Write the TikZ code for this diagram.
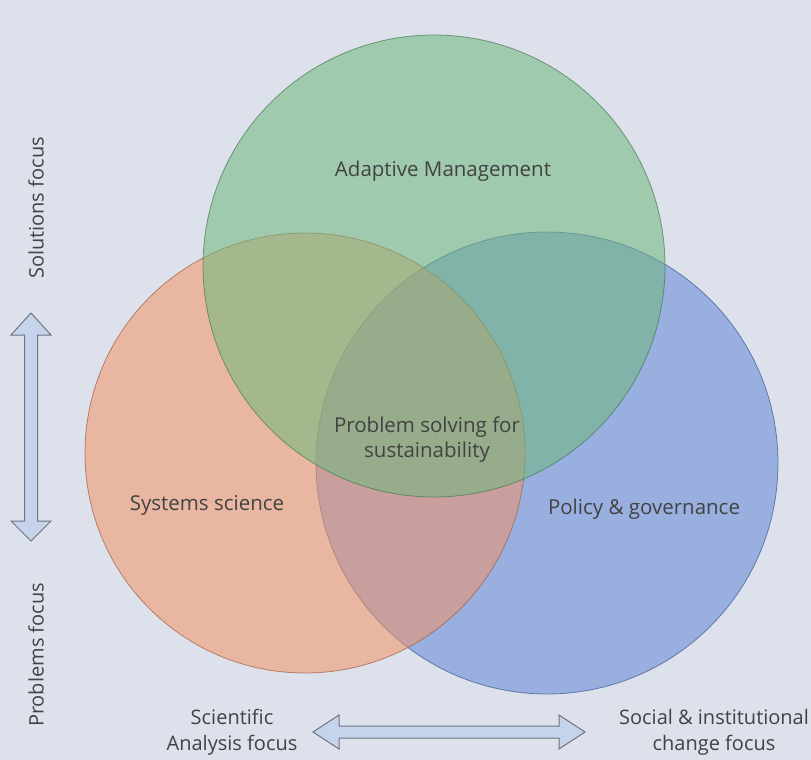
\documentclass[tikz,border=0pt]{standalone}
\usepackage{fontspec}
\setmainfont{Open Sans}
\definecolor{pagebg}{RGB}{221,225,235}
\definecolor{adaptfill}{RGB}{111,184,125}
\definecolor{systemsfill}{RGB}{242,147,102}
\definecolor{policyfill}{RGB}{96,135,216}
\definecolor{labeltext}{RGB}{66,66,66}
\definecolor{arrowfill}{RGB}{198,211,236}
\definecolor{arrowline}{RGB}{112,116,126}
\tikzset{
  venn/.style={circle, inner sep=0pt, fill opacity=0.55, draw opacity=0.7, line width=0.8pt},
  lbl/.style={text=labeltext, font=\fontsize{20.5}{25}\selectfont, align=center},
  axislbl/.style={text=labeltext, font=\fontsize{20}{26}\selectfont, align=center},
  focusarrow/.style={draw=arrowline, fill=arrowfill, line width=1pt, line join=miter}
}
\begin{document}
\begin{tikzpicture}[x=1pt,y=-1pt]
  % page background
  \fill[pagebg] (0,0) rectangle (811,760);
  \useasboundingbox (0,0) rectangle (811,760);

  % the three overlapping fields
  \node[venn, fill=policyfill, draw=policyfill!65!black, minimum size=462pt] (policy) at (547,463) {};
  \node[venn, fill=systemsfill, draw=systemsfill!65!black, minimum size=440pt] (systems) at (305,453) {};
  \node[venn, fill=adaptfill, draw=adaptfill!65!black, minimum size=462pt] (adaptive) at (434,266) {};

  % field labels
  \node[lbl] (adaptlbl) at (443,171) {Adaptive Management};
  \node[lbl] (syslbl) at (207,505) {Systems science};
  \node[lbl] (pollbl) at (644,509) {Policy \& governance};
  \node[lbl] (corelbl) at (427,440) {Problem solving for\\sustainability};

  % vertical axis: solutions <-> problems
  \node[axislbl, rotate=90] (solutions) at (36,208) {Solutions focus};
  \node[axislbl, rotate=90] (problems) at (36,655) {Problems focus};
  \coordinate (vtop) at (31,313);
  \coordinate (vbot) at (31,541);
  \draw[focusarrow] (vtop) -- ++(20,22) -- ++(-13.5,0) -- ++(0,186) -- ++(13.5,0)
    -- (vbot) -- ++(-20,-20) -- ++(13.5,0) -- ++(0,-186) -- ++(-13.5,0) -- cycle;

  % horizontal axis: scientific analysis <-> social change
  \node[axislbl] (scientific) at (232,732) {Scientific\\Analysis focus};
  \node[axislbl] (social) at (714,732) {Social \& institutional\\change focus};
  \coordinate (hleft) at (313,732);
  \coordinate (hright) at (585,732);
  \draw[focusarrow] (hleft) -- ++(26,-17) -- ++(0,11) -- ++(220,0) -- ++(0,-11)
    -- (hright) -- ++(-26,17) -- ++(0,-11) -- ++(-220,0) -- ++(0,11) -- cycle;
\end{tikzpicture}
\end{document}
